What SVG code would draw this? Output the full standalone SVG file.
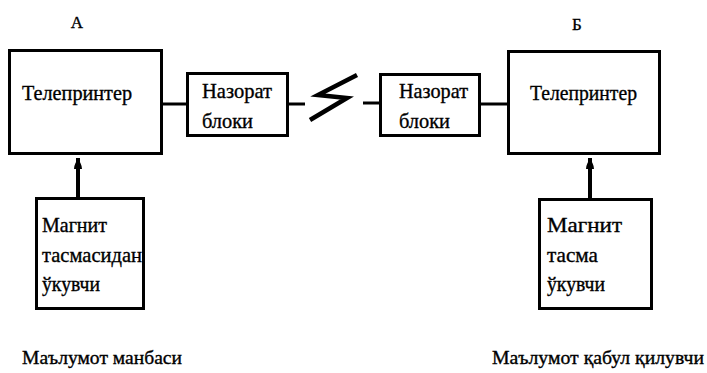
<svg xmlns="http://www.w3.org/2000/svg" width="707" height="373" viewBox="0 0 707 373">
  <style>
    .box { fill: #ffffff; stroke: #000000; stroke-width: 3; }
    .line { fill: none; stroke: #000000; stroke-width: 3; }
    .shaft { fill: none; stroke: #000000; stroke-width: 4; }
    .bolt { fill: none; stroke: #000000; stroke-width: 4.5; stroke-linejoin: miter; }
    text { fill: #000000; stroke: #000000; stroke-width: 0.35; font-family: "Liberation Serif", "Times New Roman", serif; }
    .lbl { font-size: 21px; }
    .hdr { font-size: 17px; }
    .cap { font-size: 19px; }
  </style>
  <defs>
    <!-- rounded arrowhead drawn along +x, tip at the line end -->
    <marker id="head" viewBox="0 0 12 10" refX="11" refY="5" markerWidth="12" markerHeight="10" markerUnits="userSpaceOnUse" orient="auto">
      <path d="M11,5 C8,3.5 4,1 0,1 L0,9 C4,9 8,6.5 11,5 Z" fill="#000000"/>
    </marker>
  </defs>

  <!-- station headings -->
  <text class="hdr" x="77" y="28" text-anchor="middle">А</text>
  <text class="hdr" x="577" y="30" text-anchor="middle">Б</text>

  <!-- connectors -->
  <g id="connectors">
    <line class="line" x1="163" y1="104" x2="187" y2="104"/>
    <line class="line" x1="288" y1="104" x2="305" y2="104"/>
    <polyline class="bolt" points="357,75 318,95 347,98 310,120"/>
    <line class="line" x1="363" y1="103" x2="381" y2="103"/>
    <line class="line" x1="480" y1="104" x2="508" y2="104"/>
    <line class="shaft" x1="78" y1="197" x2="78" y2="158" marker-end="url(#head)"/>
    <line class="shaft" x1="590" y1="198" x2="590" y2="158" marker-end="url(#head)"/>
  </g>

  <!-- sending side -->
  <g id="teleprinter-a">
    <rect class="box" x="9.5" y="50.5" width="152" height="103"/>
    <text class="lbl" x="22" y="100" textLength="110" lengthAdjust="spacingAndGlyphs">Телепринтер</text>
  </g>
  <g id="control-a">
    <rect class="box" x="187.5" y="73.5" width="100" height="62"/>
    <text class="lbl" x="202" y="98" textLength="70" lengthAdjust="spacingAndGlyphs">Назорат</text>
    <text class="lbl" x="202" y="128" textLength="51" lengthAdjust="spacingAndGlyphs">блоки</text>
  </g>
  <g id="tape-reader-a">
    <rect class="box" x="36.5" y="198.5" width="107" height="110"/>
    <text class="lbl" x="42" y="232" textLength="65" lengthAdjust="spacingAndGlyphs">Магнит</text>
    <text class="lbl" x="42" y="262" textLength="100" lengthAdjust="spacingAndGlyphs">тасмасидан</text>
    <text class="lbl" x="42" y="291" textLength="58" lengthAdjust="spacingAndGlyphs">ўкувчи</text>
  </g>

  <!-- receiving side -->
  <g id="control-b">
    <rect class="box" x="380.5" y="74.5" width="99" height="61"/>
    <text class="lbl" x="399" y="98" textLength="69" lengthAdjust="spacingAndGlyphs">Назорат</text>
    <text class="lbl" x="399" y="128" textLength="51" lengthAdjust="spacingAndGlyphs">блоки</text>
  </g>
  <g id="teleprinter-b">
    <rect class="box" x="508.5" y="51.5" width="151" height="102"/>
    <text class="lbl" x="530" y="100" textLength="107" lengthAdjust="spacingAndGlyphs">Телепринтер</text>
  </g>
  <g id="tape-reader-b">
    <rect class="box" x="539.5" y="199.5" width="112" height="109"/>
    <text class="lbl" x="547" y="232" textLength="75" lengthAdjust="spacingAndGlyphs">Магнит</text>
    <text class="lbl" x="547" y="262" textLength="51" lengthAdjust="spacingAndGlyphs">тасма</text>
    <text class="lbl" x="547" y="291" textLength="58" lengthAdjust="spacingAndGlyphs">ўкувчи</text>
  </g>

  <!-- captions -->
  <text class="cap" x="22" y="364" textLength="160" lengthAdjust="spacingAndGlyphs">Маълумот манбаси</text>
  <text class="cap" x="492" y="364" textLength="212" lengthAdjust="spacingAndGlyphs">Маълумот қабул қилувчи</text>
</svg>
